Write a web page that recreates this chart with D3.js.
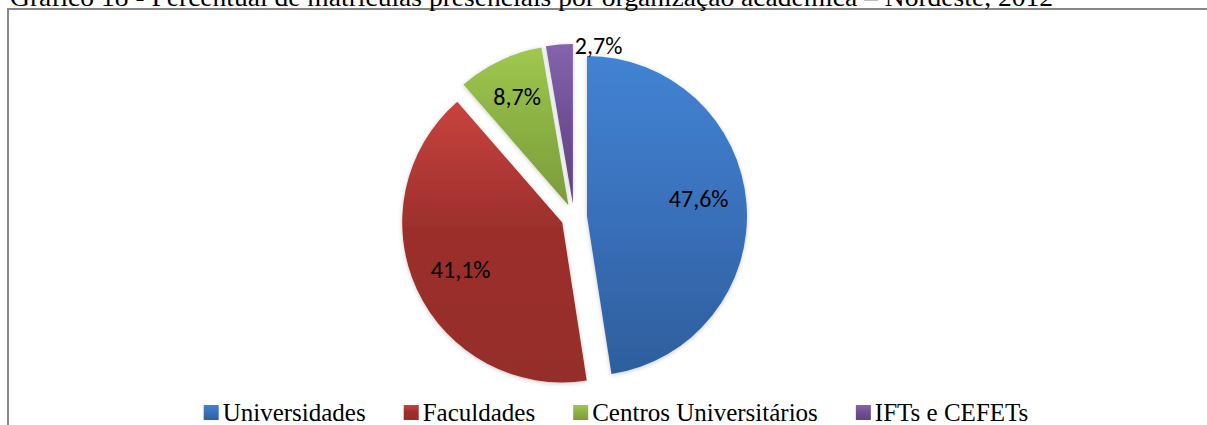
<!DOCTYPE html>
<html>
<head>
<meta charset="utf-8">
<script src="https://cdnjs.cloudflare.com/ajax/libs/d3/7.8.5/d3.min.js"></script>
<style>
  html, body { margin: 0; padding: 0; background: #fff; overflow: hidden; }
</style>
</head>
<body>
<svg id="chart" width="1207" height="425"></svg>
<script>
var titleText = 'Gráfico 18 - Percentual de matrículas presenciais por organização acadêmica – Nordeste, 2012';
var categories = ['Universidades', 'Faculdades', 'Centros Universitários', 'IFTs e CEFETs'];
var values = [47.6, 41.1, 8.7, 2.7];
var labels = ['47,6%', '41,1%', '8,7%', '2,7%'];
var colorsTop = ['#4283d3', '#c8433f', '#a0c850', '#8464ac'];
var colorsMid = ['#3a72bd', '#9c2f2c', '#8db244', '#705095'];
var colorsBottom = ['#2e5e9c', '#952d2a', '#7c9c3a', '#5f457f'];

var svg = d3.select('#chart'),
	cx = 574, cy = 217,
	radius = 160,
	explode = 13;

var defs = svg.append('defs');
categories.forEach(function(c, i){
	var g = defs.append('linearGradient').attr('id', 'grad' + i)
		.attr('x1', 0).attr('y1', 0).attr('x2', 0).attr('y2', 1);
	g.append('stop').attr('offset', '0%').attr('stop-color', colorsTop[i]);
	g.append('stop').attr('offset', '45%').attr('stop-color', colorsMid[i]);
	g.append('stop').attr('offset', '100%').attr('stop-color', colorsBottom[i]);
});
var shadow = defs.append('filter').attr('id', 'shadow')
	.attr('x', '-20%').attr('y', '-20%').attr('width', '140%').attr('height', '140%');
shadow.append('feDropShadow').attr('dx', 0).attr('dy', 1).attr('stdDeviation', 2)
	.attr('flood-color', '#000').attr('flood-opacity', 0.22);

// chart frame
svg.append('rect')
	.attr('x', 8).attr('y', 9).attr('width', 1240).attr('height', 440)
	.style('fill', 'none').style('stroke', '#878787').style('stroke-width', 2);

// title (partly clipped at the top)
svg.append('text')
	.attr('x', 10).attr('y', 6)
	.style('font-family', '"Liberation Serif", "Times New Roman", serif')
	.style('font-size', '26px')
	.attr('textLength', 1043).attr('lengthAdjust', 'spacingAndGlyphs')
	.text(titleText);

var pie = d3.pie().sort(null).value(function(d){ return d; });
var arcs = pie(values);
var arc = d3.arc().innerRadius(0).outerRadius(radius);

function dir(a){ return [Math.sin(a), -Math.cos(a)]; }

var pieG = svg.append('g').attr('transform', 'translate(' + cx + ',' + cy + ')');

var slices = pieG.selectAll('g.slice').data(arcs).enter().append('g').attr('class', 'slice')
	.attr('transform', function(d){
		var v = dir((d.startAngle + d.endAngle) / 2);
		return 'translate(' + (v[0] * explode) + ',' + (v[1] * explode) + ')';
	});

slices.append('path')
	.attr('d', arc)
	.attr('filter', 'url(#shadow)')
	.style('fill', function(d, i){ return 'url(#grad' + i + ')'; });

slices.append('text')
	.attr('transform', function(d){
		var mid = (d.startAngle + d.endAngle) / 2, v, rr;
		if (d.value < 5) {
			// small slice: label sits just outside, past the slice end
			v = dir(d.endAngle + 0.16); rr = radius + 1;
		} else {
			v = dir(mid); rr = radius * (d.value < 20 ? 0.75 : 0.7);
		}
		return 'translate(' + (v[0] * rr) + ',' + (v[1] * rr) + ')';
	})
	.attr('text-anchor', 'middle')
	.attr('dy', function(d){ return d.value > 45 ? '0.0em' : '0.36em'; })
	.style('font-family', 'Carlito, Calibri, Lato, sans-serif')
	.style('font-size', '24px')
	.style('fill', '#000')
	.text(function(d, i){ return labels[i]; });

// legend
var legend = svg.append('g').attr('class', 'legend'),
	sw = 15, gapText = 4, gapItem = 38, x = 0;
categories.forEach(function(c, i){
	var item = legend.append('g').attr('transform', 'translate(' + x + ',0)');
	item.append('rect').attr('x', 0).attr('y', -16).attr('width', sw).attr('height', sw)
		.style('fill', 'url(#grad' + i + ')');
	var t = item.append('text').attr('x', sw + gapText).attr('y', 0)
		.style('font-family', '"Liberation Serif", "Times New Roman", serif')
		.style('font-size', '25px')
		.text(c);
	x += sw + gapText + t.node().getComputedTextLength() + gapItem;
});
var legendW = x - gapItem;
legend.attr('transform', 'translate(' + (616 - legendW / 2) + ',421)');
</script>
</body>
</html>
